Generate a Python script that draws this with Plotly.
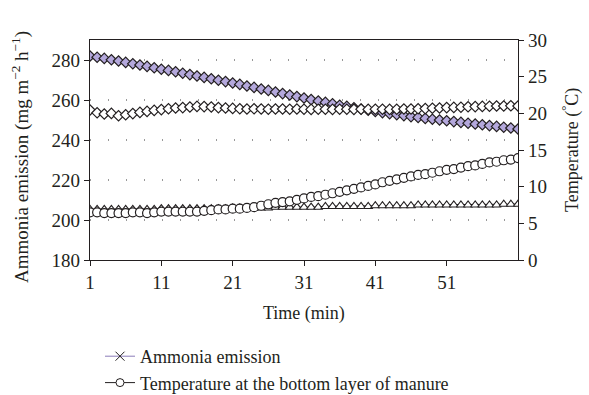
import plotly.graph_objects as go

minutes = list(range(1, 62))

ammonia_emission = [
    282.0, 281.4, 280.8, 280.1, 279.5, 278.8, 278.1, 277.5, 276.8, 276.1,
    275.4, 274.8, 274.1, 273.4, 272.7, 272.0, 271.3, 270.6, 269.9, 269.2,
    268.5, 267.8, 267.0, 266.3, 265.5, 264.8, 264.0, 263.2, 262.5, 261.7,
    261.0, 260.2, 259.5, 258.8, 258.1, 257.4, 256.8, 256.1, 255.5, 254.9,
    254.3, 253.7, 253.2, 252.7, 252.2, 251.7, 251.3, 250.8, 250.4, 250.0,
    249.6, 249.2, 248.8, 248.4, 248.0, 247.6, 247.2, 246.8, 246.4, 246.0,
    245.5,
]

ammonia_emission_2 = [
    255.0, 253.6, 253.0, 253.3, 252.1, 252.6, 253.2, 253.8, 254.3, 254.8,
    255.2, 255.6, 256.0, 256.2, 256.5, 256.8, 256.7, 256.5, 256.2, 256.0,
    255.8, 255.6, 255.5, 255.6, 255.5, 255.4, 255.5, 255.5, 255.4, 255.5,
    255.4, 255.3, 255.4, 255.4, 255.3, 255.4, 255.4, 255.3, 255.4, 255.3,
    255.4, 255.4, 255.3, 255.4, 255.5, 255.5, 255.6, 255.7, 255.9, 256.0,
    256.2, 256.3, 256.4, 256.6, 256.7, 256.8, 256.9, 257.0, 257.0, 257.1,
    257.0,
]

temp_bottom = [
    6.5, 6.5, 6.4, 6.4, 6.4, 6.4, 6.5, 6.5, 6.4, 6.5,
    6.6, 6.6, 6.6, 6.6, 6.6, 6.6, 6.7, 6.8, 6.9, 6.9,
    7.0, 7.0, 7.1, 7.2, 7.4, 7.6, 7.8, 7.9, 8.0, 8.2,
    8.4, 8.6, 8.7, 8.9, 9.1, 9.3, 9.5, 9.7, 9.9, 10.1,
    10.3, 10.6, 10.8, 11.0, 11.2, 11.4, 11.6, 11.7, 11.9, 12.1,
    12.3, 12.4, 12.6, 12.8, 12.9, 13.1, 13.3, 13.4, 13.6, 13.7,
    13.9,
]

temp_other = [
    6.9, 6.9, 6.9, 6.9, 6.9, 6.9, 6.9, 6.9, 6.9, 6.9,
    7.0, 7.0, 7.0, 7.0, 7.0, 7.0, 7.0, 7.0, 7.0, 7.0,
    7.1, 7.1, 7.1, 7.1, 7.1, 7.1, 7.2, 7.2, 7.2, 7.2,
    7.2, 7.2, 7.2, 7.3, 7.3, 7.3, 7.3, 7.3, 7.3, 7.3,
    7.4, 7.4, 7.4, 7.4, 7.4, 7.4, 7.5, 7.5, 7.5, 7.5,
    7.5, 7.5, 7.5, 7.5, 7.5, 7.5, 7.5, 7.5, 7.6, 7.6,
    7.6,
]

x_ticks = [1, 11, 21, 31, 41, 51]
left_ticks = [180, 200, 220, 240, 260, 280]
right_ticks = [0, 5, 10, 15, 20, 25, 30]

FONT = "Liberation Serif"
INK = "#231f20"
W, H = 589, 395
ML, MR, MT, MB = 90, 71, 40, 135
PW, PH = W - ML - MR, H - MT - MB

fig = go.Figure()

fig.add_trace(go.Scatter(
    x=minutes, y=ammonia_emission, mode="lines+markers",
    line=dict(color=INK, width=1.3),
    marker=dict(symbol="diamond", size=8, color="#b4a8dc",
                line=dict(color=INK, width=1.2)),
    showlegend=False, yaxis="y",
))
fig.add_trace(go.Scatter(
    x=minutes, y=ammonia_emission_2, mode="lines+markers",
    line=dict(color=INK, width=1.3),
    marker=dict(symbol="diamond", size=8, color="white",
                line=dict(color=INK, width=1.2)),
    showlegend=False, yaxis="y",
))
fig.add_trace(go.Scatter(
    x=minutes, y=temp_other, mode="lines+markers",
    line=dict(color=INK, width=1.3),
    marker=dict(symbol="triangle-up", size=8, color="white",
                line=dict(color=INK, width=1.1)),
    showlegend=False, yaxis="y2",
))
fig.add_trace(go.Scatter(
    x=minutes, y=temp_bottom, mode="lines+markers",
    line=dict(color=INK, width=1.3),
    marker=dict(symbol="circle", size=9, color="white",
                line=dict(color=INK, width=1.2)),
    showlegend=False, yaxis="y2",
))

# Legend entries
fig.add_trace(go.Scatter(
    x=[None], y=[None], mode="lines+markers", name="Ammonia emission",
    line=dict(color="#8a7cb8", width=1),
    marker=dict(symbol="x-thin", size=9, color=INK,
                line=dict(color=INK, width=1)),
))
fig.add_trace(go.Scatter(
    x=[None], y=[None], mode="lines+markers",
    name="Temperature at the bottom layer of manure",
    line=dict(color=INK, width=1),
    marker=dict(symbol="circle", size=8, color="white",
                line=dict(color=INK, width=1)),
))

fig.update_layout(
    width=W, height=H,
    margin=dict(l=ML, r=MR, t=MT, b=MB, autoexpand=False),
    paper_bgcolor="white", plot_bgcolor="white",
    font=dict(family=FONT, size=19, color=INK),
    xaxis=dict(
        range=[1, 61], tickvals=x_ticks, ticks="outside", ticklen=5,
        tickcolor=INK, showline=True, linecolor=INK, linewidth=1.2,
        mirror=True, showgrid=False, zeroline=False, automargin=False,
    ),
    yaxis=dict(
        range=[180, 290], tickvals=left_ticks, ticks="outside", ticklen=5,
        tickcolor=INK, showline=True, linecolor=INK, linewidth=1.2,
        showgrid=True, gridcolor="#999", griddash="1px,17px", gridwidth=1.5,
        zeroline=False, automargin=False,
    ),
    yaxis2=dict(
        range=[0, 30], tickvals=right_ticks, ticks="outside", ticklen=5,
        tickcolor=INK, showline=True, linecolor=INK, linewidth=1.2,
        overlaying="y", side="right", showgrid=False, zeroline=False,
        automargin=False,
    ),
    legend=dict(
        x=(100 - ML) / PW, y=-(338 - MT - PH) / PH,
        xanchor="left", yanchor="top",
        orientation="v", font=dict(size=18), tracegroupgap=0,
        itemwidth=30, bgcolor="rgba(0,0,0,0)",
    ),
)

# Axis titles
fig.add_annotation(
    text="Time (min)", xref="paper", yref="paper", x=0.5,
    y=-(313 - MT - PH) / PH, showarrow=False, font=dict(size=18),
    xanchor="center", yanchor="middle",
)
fig.add_annotation(
    text="Ammonia emission (mg m<sup>−2</sup> h<sup>−1</sup>)",
    xref="paper", yref="paper", x=-(ML - 20) / PW, y=0.5 - 7 / PH,
    textangle=-90, showarrow=False, font=dict(size=19),
    xanchor="center", yanchor="middle",
)
fig.add_annotation(
    text="Temperature (<sup>°</sup>C)",
    xref="paper", yref="paper", x=1 + (571 - ML - PW) / PW, y=0.5,
    textangle=-90, showarrow=False, font=dict(size=18),
    xanchor="center", yanchor="middle",
)

fig.write_html("out.html")
